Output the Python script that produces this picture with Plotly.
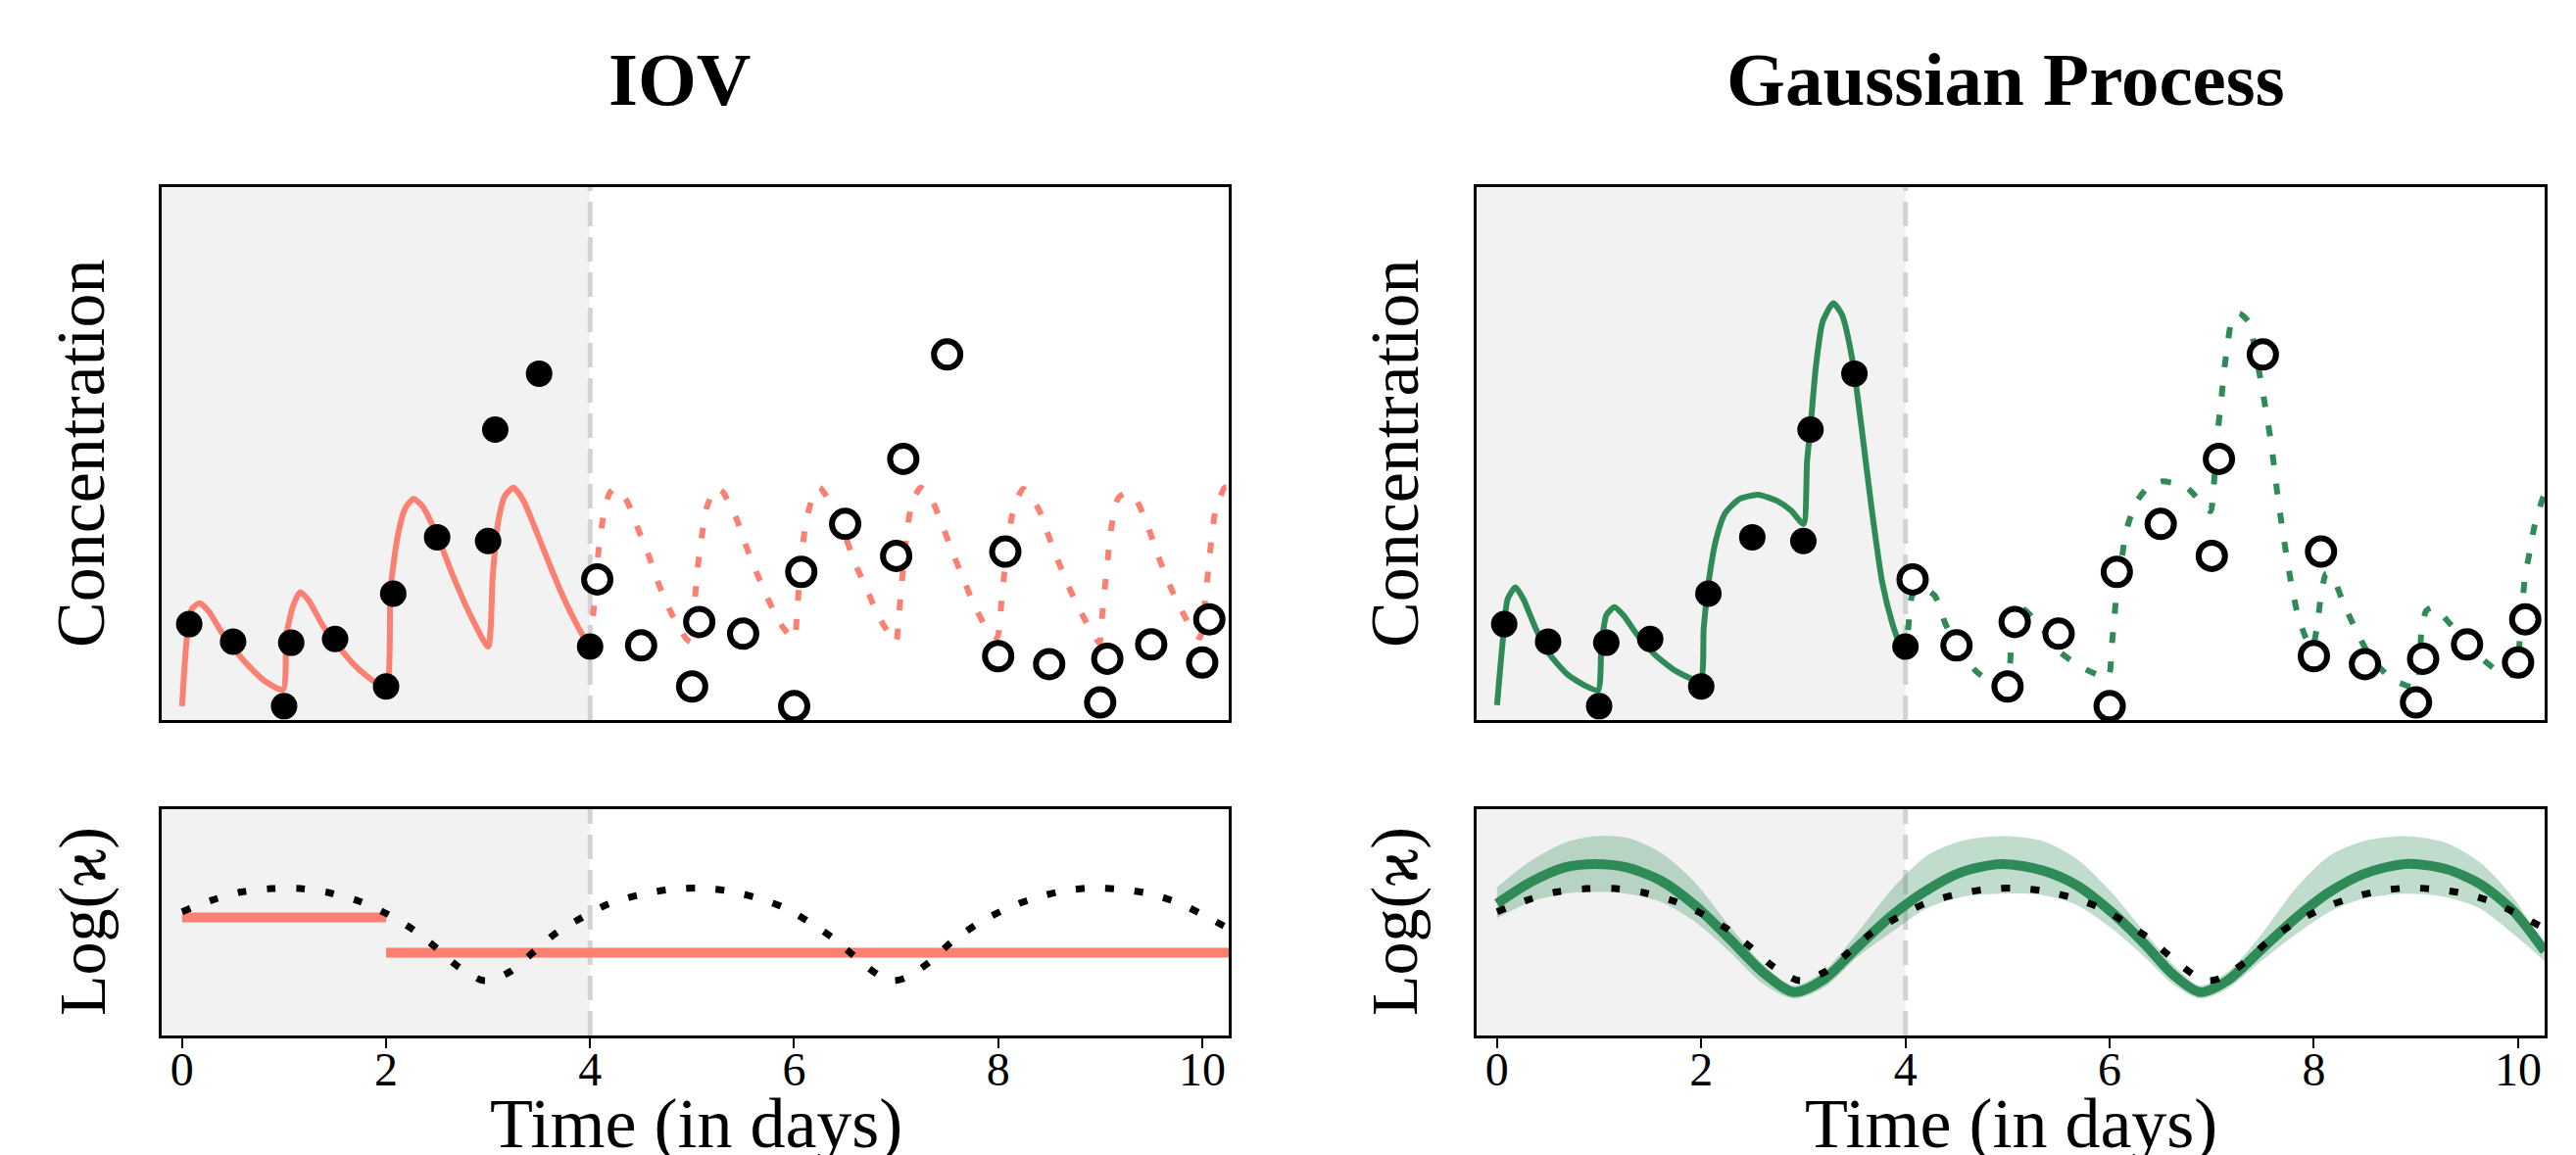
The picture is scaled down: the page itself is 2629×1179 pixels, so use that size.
import plotly.graph_objects as go

# ---------------- data ----------------
obs_t_past = [0.07, 0.5, 1.0, 1.07, 1.5, 2.0, 2.07, 2.5, 3.0, 3.07, 3.5, 4.0]
obs_c_past = [0.180, 0.147, 0.026, 0.145, 0.152, 0.063, 0.237, 0.343, 0.336, 0.545, 0.650, 0.138]

obs_t_future = [4.07, 4.5, 5.0, 5.07, 5.5, 6.0, 6.07, 6.5, 7.0, 7.07, 7.5, 8.0, 8.07,
                8.5, 9.0, 9.07, 9.5, 10.0, 10.07]
obs_c_future = [0.264, 0.140, 0.063, 0.184, 0.162, 0.026, 0.278, 0.368, 0.308, 0.490,
                0.686, 0.120, 0.316, 0.105, 0.033, 0.115, 0.142, 0.108, 0.189]

iov_t_fit = [0.0, 0.044, 0.097, 0.171, 0.265, 0.383, 0.504, 0.636, 0.804, 0.989, 1.023,
             1.09, 1.157, 1.242, 1.377, 1.505, 1.68, 1.849, 2.0, 2.044, 2.118, 2.192,
             2.27, 2.354, 2.506, 2.657, 2.826, 3.0, 3.045, 3.095, 3.163, 3.247, 3.348,
             3.533, 3.702, 3.837, 3.971, 4.0]
iov_c_fit = [0.026, 0.148, 0.209, 0.219, 0.203, 0.166, 0.135, 0.105, 0.074, 0.057, 0.160,
             0.215, 0.240, 0.224, 0.178, 0.145, 0.105, 0.077, 0.061, 0.246, 0.350, 0.399,
             0.415, 0.402, 0.344, 0.270, 0.197, 0.138, 0.270, 0.368, 0.420, 0.436, 0.411,
             0.325, 0.246, 0.191, 0.145, 0.138]

iov_t_pred = [4.0, 4.03, 4.08, 4.123, 4.19, 4.25, 4.36, 4.476, 4.577, 4.679, 4.797, 4.949,
              5.0, 5.03, 5.06, 5.094, 5.144, 5.23, 5.30, 5.43, 5.532, 5.633, 5.751, 5.886,
              6.0, 6.031, 6.081, 6.121, 6.205, 6.25, 6.374, 6.492, 6.594, 6.711, 6.829, 6.981,
              7.0, 7.025, 7.048, 7.106, 7.156, 7.24, 7.325, 7.442, 7.544, 7.655, 7.766, 7.907,
              7.99, 8.032, 8.059, 8.137, 8.244, 8.396, 8.503, 8.608, 8.716, 8.851, 8.993,
              9.02, 9.046, 9.077, 9.11, 9.178, 9.256, 9.35, 9.464, 9.565, 9.67, 9.788, 9.936,
              9.98, 10.03, 10.06, 10.09, 10.13, 10.22, 10.26]
iov_c_pred = [0.140, 0.197, 0.313, 0.374, 0.426, 0.435, 0.411, 0.356, 0.307, 0.252, 0.200, 0.151,
              0.146, 0.233, 0.295, 0.344, 0.399, 0.435, 0.428, 0.380, 0.325, 0.276, 0.224, 0.175,
              0.152, 0.212, 0.322, 0.377, 0.430, 0.436, 0.402, 0.350, 0.295, 0.246, 0.194, 0.148,
              0.146, 0.191, 0.243, 0.353, 0.408, 0.436, 0.423, 0.371, 0.319, 0.267, 0.215, 0.166,
              0.155, 0.221, 0.273, 0.384, 0.434, 0.396, 0.341, 0.289, 0.240, 0.188, 0.145,
              0.197, 0.249, 0.307, 0.362, 0.417, 0.426, 0.414, 0.365, 0.310, 0.258, 0.209, 0.160,
              0.155, 0.227, 0.283, 0.338, 0.393, 0.436, 0.437]

gp_t_fit = [0.0, 0.053, 0.104, 0.18, 0.258, 0.378, 0.516, 0.687, 0.858, 0.989, 1.023, 1.071,
            1.15, 1.236, 1.373, 1.544, 1.75, 1.99, 2.024, 2.076, 2.144, 2.23, 2.368, 2.556,
            2.744, 2.881, 3.001, 3.036, 3.071, 3.122, 3.19, 3.293, 3.379, 3.481, 3.568, 3.671,
            3.773, 3.876, 3.996]
gp_c_fit = [0.028, 0.142, 0.227, 0.249, 0.227, 0.172, 0.123, 0.086, 0.065, 0.056, 0.142, 0.197,
            0.212, 0.197, 0.160, 0.123, 0.092, 0.074, 0.172, 0.264, 0.338, 0.387, 0.414, 0.423,
            0.411, 0.393, 0.368, 0.485, 0.552, 0.662, 0.748, 0.782, 0.760, 0.675, 0.552, 0.393,
            0.258, 0.178, 0.114]

gp_t_pred = [3.996, 4.03, 4.064, 4.15, 4.288, 4.39, 4.5, 4.70, 4.85, 4.99, 5.024, 5.04, 5.08,
             5.143, 5.315, 5.505, 5.727, 5.985, 6.018, 6.046, 6.07, 6.122, 6.163, 6.258, 6.38,
             6.52, 6.755, 6.951, 6.99, 7.013, 7.054, 7.089, 7.116, 7.15, 7.202, 7.27, 7.356,
             7.476, 7.528, 7.578, 7.613, 7.647, 7.689, 7.733, 7.785, 7.843, 7.922, 7.985, 8.035,
             8.069, 8.12, 8.179, 8.299, 8.419, 8.55, 8.762, 9.0, 9.053, 9.10, 9.173, 9.345, 9.5,
             9.65, 9.773, 9.92, 9.99, 10.013, 10.065, 10.117, 10.168, 10.253]
gp_c_pred = [0.114, 0.178, 0.233, 0.250, 0.233, 0.181, 0.140, 0.090, 0.072, 0.068, 0.105, 0.154, 0.195,
             0.209, 0.178, 0.129, 0.099, 0.080, 0.135, 0.191, 0.246, 0.307, 0.356, 0.408, 0.438,
             0.448, 0.436, 0.396, 0.392, 0.423, 0.534, 0.592, 0.647, 0.699, 0.754, 0.763, 0.748,
             0.641, 0.583, 0.524, 0.472, 0.417, 0.362, 0.307, 0.249, 0.197, 0.154, 0.135, 0.181,
             0.233, 0.275, 0.270, 0.215, 0.166, 0.120, 0.077, 0.062, 0.166, 0.205, 0.212, 0.178, 0.145,
             0.115, 0.096, 0.085, 0.088, 0.142, 0.264, 0.319, 0.371, 0.423]

# log(kappa) panels
true_t = [0.0, 0.294, 0.581, 0.875, 1.162, 1.45, 1.73, 1.997, 2.25, 2.485, 2.705, 2.965, 3.219,
          3.446, 3.667, 3.92, 4.18, 4.468, 4.755, 5.049, 5.336, 5.617, 5.89, 6.137, 6.39, 6.605,
          6.838, 6.97, 7.106, 7.339, 7.553, 7.807, 8.074, 8.341, 8.622, 8.909, 9.196, 9.476, 9.757,
          10.01, 10.26]
true_v = [0.547, 0.598, 0.634, 0.649, 0.649, 0.630, 0.594, 0.540, 0.472, 0.390, 0.305, 0.242, 0.283,
          0.369, 0.453, 0.521, 0.581, 0.620, 0.644, 0.652, 0.640, 0.611, 0.567, 0.504, 0.427, 0.344,
          0.264, 0.242, 0.257, 0.329, 0.417, 0.496, 0.559, 0.605, 0.637, 0.652, 0.646, 0.627, 0.588,
          0.533, 0.472]

iov_k_t = [0.0, 2.0, None, 2.0, 10.26]
iov_k_v = [0.522, 0.522, None, 0.366, 0.366]

gp_k_t = [0.0, 0.33, 0.665, 0.966, 1.267, 1.601, 1.935, 2.27, 2.604, 2.905, 3.206, 3.54, 3.874,
          4.209, 4.543, 4.944, 5.345, 5.68, 6.014, 6.348, 6.616, 6.883, 7.151, 7.485, 7.82, 8.154,
          8.488, 8.89, 9.29, 9.625, 9.96, 10.26]
gp_k_mean = [0.583, 0.678, 0.743, 0.758, 0.743, 0.685, 0.576, 0.431, 0.279, 0.192, 0.250, 0.395,
             0.533, 0.642, 0.721, 0.758, 0.729, 0.663, 0.547, 0.402, 0.271, 0.192, 0.242, 0.380,
             0.518, 0.634, 0.714, 0.758, 0.736, 0.670, 0.547, 0.373]
gp_k_upper = [0.656, 0.772, 0.852, 0.881, 0.874, 0.808, 0.678, 0.489, 0.315, 0.221, 0.286, 0.460,
              0.649, 0.794, 0.859, 0.881, 0.859, 0.779, 0.634, 0.453, 0.315, 0.221, 0.279, 0.446,
              0.649, 0.794, 0.859, 0.881, 0.852, 0.765, 0.605, 0.388]
gp_k_lower = [0.518, 0.591, 0.627, 0.634, 0.627, 0.591, 0.504, 0.373, 0.228, 0.163, 0.213, 0.351,
              0.460, 0.562, 0.612, 0.627, 0.620, 0.576, 0.475, 0.344, 0.228, 0.163, 0.206, 0.329,
              0.446, 0.547, 0.605, 0.627, 0.612, 0.562, 0.446, 0.329]

day_ticks = [0, 2, 4, 6, 8, 10]
x_range = [-0.2, 10.26]
split_day = 4

titles = ["IOV", "Gaussian Process"]
ylabel_top = "Concentration"
ylabel_bot = "Log(\u03f0)"
xlabel = "Time (in days)"

# ---------------- styling ----------------
W, H = 2629, 1179
SALMON = "salmon"
GREEN = "#2e8b57"
BAND = "rgba(46,139,87,0.30)"
SHADE = "#f2f2f2"
FONT = "Liberation Serif"

def px_x(p):
    return p / W

def px_y(p):
    return 1 - p / H

col_x = [[px_x(157), px_x(1246)], [px_x(1499), px_x(2589)]]
top_y = [px_y(727), px_y(183)]
bot_y = [px_y(1049), px_y(818)]

fig = go.Figure()

def ax(i):
    return ("x" if i == 1 else f"x{i}"), ("y" if i == 1 else f"y{i}")

open_marker = dict(symbol="circle", size=27, color="white", line=dict(color="black", width=6))
fill_marker = dict(symbol="circle", size=27, color="black", line=dict(width=0))
pred_dash = "11px,19px"
true_dash = "9px,21px"

# --- IOV top
xa, ya = ax(1)
fig.add_trace(go.Scatter(x=iov_t_fit, y=iov_c_fit, mode="lines", line=dict(color=SALMON, width=6, shape="spline", smoothing=0.6), xaxis=xa, yaxis=ya))
fig.add_trace(go.Scatter(x=iov_t_pred, y=iov_c_pred, mode="lines", line=dict(color=SALMON, width=6, dash=pred_dash, shape="spline", smoothing=0.6), xaxis=xa, yaxis=ya))
fig.add_trace(go.Scatter(x=obs_t_past, y=obs_c_past, mode="markers", marker=fill_marker, xaxis=xa, yaxis=ya))
fig.add_trace(go.Scatter(x=obs_t_future, y=obs_c_future, mode="markers", marker=open_marker, xaxis=xa, yaxis=ya))

# --- IOV bottom
xa, ya = ax(2)
fig.add_trace(go.Scatter(x=iov_k_t, y=iov_k_v, mode="lines", line=dict(color=SALMON, width=10), connectgaps=False, xaxis=xa, yaxis=ya))
fig.add_trace(go.Scatter(x=true_t, y=true_v, mode="lines", line=dict(color="black", width=7, dash=true_dash, shape="spline", smoothing=0.8), xaxis=xa, yaxis=ya))

# --- GP top
xa, ya = ax(3)
fig.add_trace(go.Scatter(x=gp_t_fit, y=gp_c_fit, mode="lines", line=dict(color=GREEN, width=6, shape="spline", smoothing=0.6), xaxis=xa, yaxis=ya))
fig.add_trace(go.Scatter(x=gp_t_pred, y=gp_c_pred, mode="lines", line=dict(color=GREEN, width=6, dash=pred_dash, shape="spline", smoothing=0.6), xaxis=xa, yaxis=ya))
fig.add_trace(go.Scatter(x=obs_t_past, y=obs_c_past, mode="markers", marker=fill_marker, xaxis=xa, yaxis=ya))
fig.add_trace(go.Scatter(x=obs_t_future, y=obs_c_future, mode="markers", marker=open_marker, xaxis=xa, yaxis=ya))

# --- GP bottom
xa, ya = ax(4)
fig.add_trace(go.Scatter(x=gp_k_t, y=gp_k_upper, mode="lines", line=dict(width=0, shape="spline", smoothing=0.8), xaxis=xa, yaxis=ya))
fig.add_trace(go.Scatter(x=gp_k_t, y=gp_k_lower, mode="lines", line=dict(width=0, shape="spline", smoothing=0.8), fill="tonexty", fillcolor=BAND, xaxis=xa, yaxis=ya))
fig.add_trace(go.Scatter(x=gp_k_t, y=gp_k_mean, mode="lines", line=dict(color=GREEN, width=10, shape="spline", smoothing=0.8), xaxis=xa, yaxis=ya))
fig.add_trace(go.Scatter(x=true_t, y=true_v, mode="lines", line=dict(color="black", width=7, dash=true_dash, shape="spline", smoothing=0.8), xaxis=xa, yaxis=ya))

layout = dict(width=W, height=H, autosize=False, margin=dict(l=0, r=0, t=0, b=0),
              paper_bgcolor="white", plot_bgcolor="white", showlegend=False,
              font=dict(family=FONT, color="black"))

frame = dict(showline=True, mirror=True, linecolor="black", linewidth=3, showgrid=False,
             zeroline=False)

shapes = []
annotations = []
for c in range(2):
    for r in range(2):
        i = 1 + c * 2 + r
        xa, ya = ax(i)
        xkey = "xaxis" if i == 1 else f"xaxis{i}"
        ykey = "yaxis" if i == 1 else f"yaxis{i}"
        xd = dict(frame, domain=col_x[c], range=x_range, anchor=ya)
        if r == 1:
            xd.update(tickmode="array", tickvals=day_ticks, ticks="outside", ticklen=10,
                      tickwidth=2, tickcolor="black", showticklabels=True,
                      tickfont=dict(family=FONT, size=48, color="black"), ticklabelstandoff=-20)
        else:
            xd.update(showticklabels=False, ticks="")
        yd = dict(frame, domain=top_y if r == 0 else bot_y, range=[0, 1], anchor=xa,
                  showticklabels=False, ticks="")
        layout[xkey] = xd
        layout[ykey] = yd
        shapes.append(dict(type="rect", xref=xa, yref=f"{ya} domain", x0=x_range[0], x1=split_day,
                           y0=0, y1=1, fillcolor=SHADE, line=dict(width=0), layer="below"))
        shapes.append(dict(type="line", xref=xa, yref=f"{ya} domain", x0=split_day, x1=split_day,
                           y0=0, y1=1, line=dict(color="#d3d3d3", width=5, dash="25px,11px"),
                           layer="below"))

title_x = [px_x(685), px_x(2039)]
ylab_x = [px_x(74), px_x(1415)]
ylab2_x = [px_x(76), px_x(1415)]
xlab_x = [px_x(702), px_x(2044)]
for c in range(2):
    annotations.append(dict(text=f"<b>{titles[c]}</b>", x=title_x[c], y=px_y(73), xref="paper", yref="paper",
                            showarrow=False, xanchor="center", yanchor="middle",
                            font=dict(family=FONT, size=77, color="black")))
    annotations.append(dict(text=ylabel_top, x=ylab_x[c], y=px_y(455), xref="paper", yref="paper",
                            showarrow=False, textangle=-90, xanchor="center", yanchor="middle",
                            font=dict(family=FONT, size=70, color="black")))
    annotations.append(dict(text=ylabel_bot, x=ylab2_x[c], y=px_y(933), xref="paper", yref="paper",
                            showarrow=False, textangle=-90, xanchor="center", yanchor="middle",
                            font=dict(family=FONT, size=68, color="black")))
    annotations.append(dict(text=xlabel, x=xlab_x[c], y=px_y(1139), xref="paper", yref="paper",
                            showarrow=False, xanchor="center", yanchor="middle",
                            font=dict(family=FONT, size=72, color="black")))

layout["shapes"] = shapes
layout["annotations"] = annotations
fig.update_layout(**layout)

fig.write_html("out.html")
